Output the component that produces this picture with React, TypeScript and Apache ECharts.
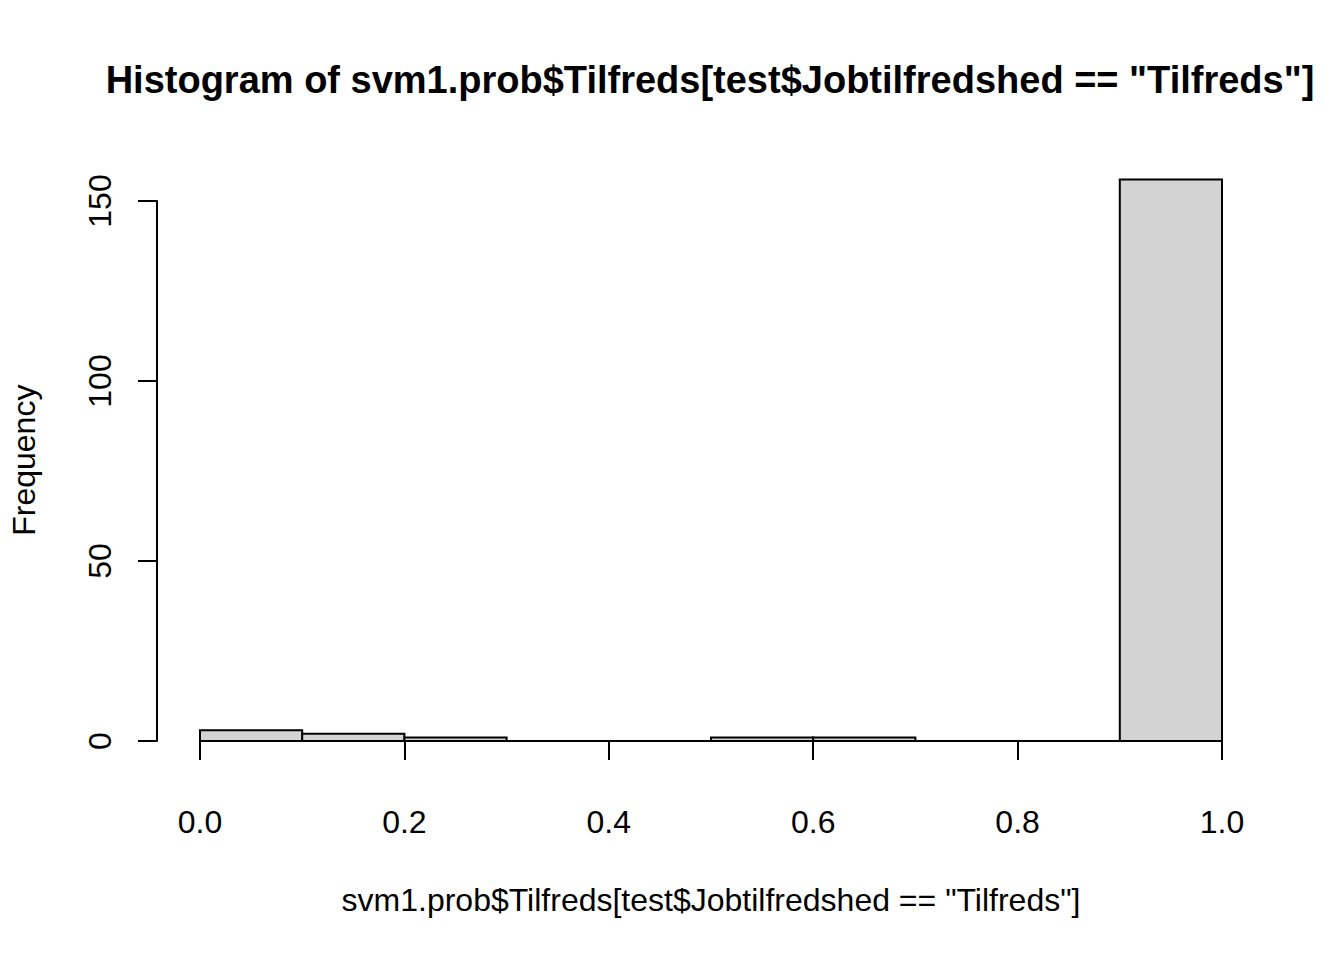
import React, { useEffect, useRef } from "react";
import * as echarts from "echarts";

const binStarts = [0.0, 0.1, 0.2, 0.3, 0.4, 0.5, 0.6, 0.7, 0.8, 0.9];
const binWidth = 0.1;
const counts = [3, 2, 1, 0, 0, 1, 1, 0, 0, 156];
const yTicks = [0, 50, 100, 150];
const titleText = 'Histogram of svm1.prob$Tilfreds[test$Jobtilfredshed == "Tilfreds"]';
const xTitle = 'svm1.prob$Tilfreds[test$Jobtilfredshed == "Tilfreds"]';
const yTitle = "Frequency";

const FONT = "'Liberation Sans', Arial, Helvetica, sans-serif";

export default function App() {
  const ref = useRef<HTMLDivElement>(null);
  useEffect(() => {
    if (!ref.current) return;
    const chart = echarts.init(ref.current, null, { renderer: "svg" });
    const data = binStarts.map((s, i) => [s, s + binWidth, counts[i]]);
    chart.setOption({
      animation: false,
      backgroundColor: "#ffffff",
      textStyle: { fontFamily: FONT, color: "#000" },
      graphic: [
        {
          type: "text",
          x: 710,
          y: 80,
          style: {
            text: titleText,
            fontFamily: FONT,
            fontSize: 38,
            fontWeight: "bold",
            fill: "#000",
            textAlign: "center",
            textVerticalAlign: "middle",
          },
        },
      ],
      grid: [
        { left: 198, width: 1024, top: 179.4, height: 561.6, containLabel: false },
        { left: 157, width: 10, top: 201, height: 540, containLabel: false },
      ],
      xAxis: [
        {
          gridIndex: 0,
          type: "value",
          min: 0,
          max: 1,
          interval: 0.2,
          offset: 23,
          axisLine: { show: true, lineStyle: { color: "#000", width: 2 } },
          axisTick: { show: true, length: 19, inside: false, lineStyle: { color: "#000", width: 2 } },
          axisLabel: {
            show: true,
            margin: 42,
            fontSize: 32,
            color: "#000",
            fontFamily: FONT,
            formatter: (v: number) => v.toFixed(1),
          },
          splitLine: { show: false },
          name: xTitle,
          nameLocation: "middle",
          nameGap: 120,
          nameTextStyle: { fontSize: 32, color: "#000", fontFamily: FONT },
        },
        { gridIndex: 1, type: "value", show: false, min: 0, max: 1 },
      ],
      yAxis: [
        {
          gridIndex: 0,
          type: "value",
          min: 0,
          max: 156,
          axisLine: { show: false },
          axisTick: { show: false },
          axisLabel: { show: false },
          splitLine: { show: false },
          name: yTitle,
          nameLocation: "middle",
          nameGap: 160,
          nameTextStyle: { fontSize: 32, color: "#000", fontFamily: FONT },
        },
        {
          gridIndex: 1,
          type: "value",
          min: yTicks[0],
          max: yTicks[yTicks.length - 1],
          interval: 50,
          position: "left",
          axisLine: { show: true, lineStyle: { color: "#000", width: 2 } },
          axisTick: { show: true, length: 19, inside: false, lineStyle: { color: "#000", width: 2 } },
          axisLabel: {
            show: true,
            rotate: 90,
            margin: 41,
            fontSize: 32,
            color: "#000",
            fontFamily: FONT,
          },
          splitLine: { show: false },
        },
      ],
      series: [
        {
          type: "custom",
          xAxisIndex: 0,
          yAxisIndex: 0,
          data,
          encode: { x: [0, 1], y: 2 },
          renderItem: (params: any, api: any) => {
            const x0 = api.value(0);
            const x1 = api.value(1);
            const c = api.value(2);
            const p0 = api.coord([x0, c]);
            const p1 = api.coord([x1, 0]);
            return {
              type: "rect",
              shape: { x: p0[0], y: p0[1], width: p1[0] - p0[0], height: p1[1] - p0[1] },
              style: { fill: "#D3D3D3", stroke: "#000", lineWidth: 2 },
            };
          },
        },
      ],
    });
    return () => chart.dispose();
  }, []);
  return (
    <div
      ref={ref}
      style={{ position: "fixed", left: 0, top: 0, width: 1344, height: 960, background: "#fff" }}
    />
  );
}
